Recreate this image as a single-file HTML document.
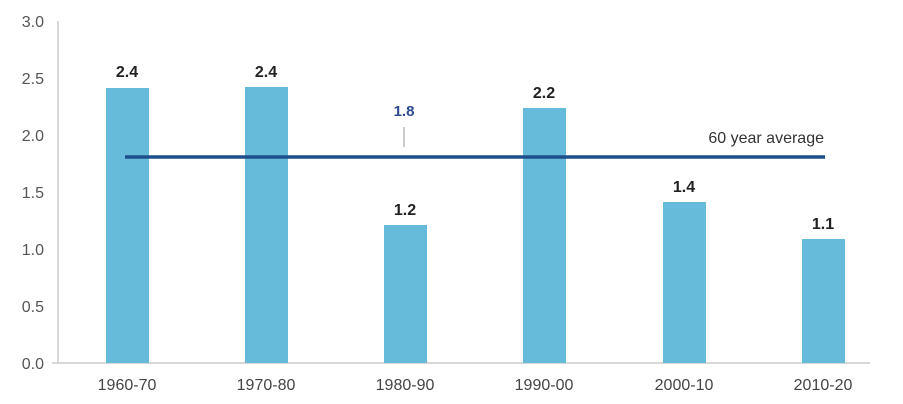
<!DOCTYPE html><html><head><style>body{margin:0;background:#fff}svg{display:block}text{font-family:"Liberation Sans",Arial,sans-serif}</style></head><body>
<svg width="903" height="404" xmlns="http://www.w3.org/2000/svg">
<g fill="#555" font-size="16" text-anchor="end">
<text x="44" y="27">3.0</text><text x="44" y="84">2.5</text><text x="44" y="141">2.0</text><text x="44" y="198">1.5</text><text x="44" y="255">1.0</text><text x="44" y="312">0.5</text><text x="44" y="369">0.0</text></g>
<g stroke="#ccc" stroke-width="1.5"><line x1="58" y1="21" x2="58" y2="363"/><line x1="52" y1="363" x2="870" y2="363"/></g>
<g fill="#66bbdb">
<rect x="106" y="88" width="43" height="275"/>
<rect x="245" y="87" width="43" height="276"/>
<rect x="384" y="225" width="43" height="138"/>
<rect x="523" y="108" width="43" height="255"/>
<rect x="663" y="202" width="43" height="161"/>
<rect x="802" y="239" width="43" height="124"/></g>
<line x1="125" y1="157" x2="825" y2="157" stroke="#1f4e8c" stroke-width="3.5"/>
<line x1="404" y1="127" x2="404" y2="147" stroke="#bbb" stroke-width="1.5"/>
<text x="404" y="116" fill="#2c4a8f" font-size="15" font-weight="bold" text-anchor="middle">1.8</text>
<text x="824" y="143" fill="#333" font-size="16" text-anchor="end">60 year average</text>
<g fill="#222" font-size="16" font-weight="bold" text-anchor="middle">
<text x="127" y="77">2.4</text><text x="266" y="77">2.4</text><text x="405" y="215">1.2</text><text x="544" y="98">2.2</text><text x="684" y="192">1.4</text><text x="823" y="229">1.1</text></g>
<g fill="#444" font-size="16" text-anchor="middle">
<text x="127" y="390">1960-70</text><text x="266" y="390">1970-80</text><text x="405" y="390">1980-90</text><text x="544" y="390">1990-00</text><text x="684" y="390">2000-10</text><text x="823" y="390">2010-20</text></g>
</svg></body></html>
